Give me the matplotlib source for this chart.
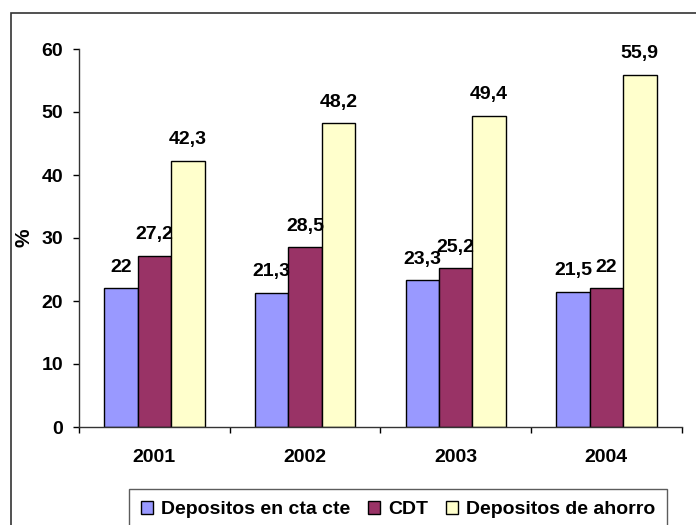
import matplotlib
matplotlib.use("Agg")
import matplotlib.pyplot as plt
import numpy as np
from matplotlib.patches import Rectangle

# ---------------------------------------------------------------- data
years = ["2001", "2002", "2003", "2004"]
cta_cte = [22, 21.3, 23.3, 21.5]
cdt = [27.2, 28.5, 25.2, 22]
ahorro = [42.3, 48.2, 49.4, 55.9]
series_names = ["Depositos en cta cte", "CDT", "Depositos de ahorro"]
colors = ["#9999FF", "#993366", "#FFFFCC"]
y_ticks = [0, 10, 20, 30, 40, 50, 60]

plt.rcParams["font.family"] = ["Liberation Sans", "DejaVu Sans"]
plt.rcParams["font.weight"] = "bold"
FS = 14

fig = plt.figure(figsize=(6.96, 5.25), dpi=100)
ax = fig.add_axes([79 / 696, 98 / 525, 602.7 / 696, 378 / 525])

x = np.arange(len(years))
bw = 0.222
for i, (vals, name, col) in enumerate(zip([cta_cte, cdt, ahorro], series_names, colors)):
    xs = x + (i - 1) * bw
    ax.bar(xs, vals, bw, color=col, edgecolor="black", linewidth=1.0, label=name)
    for xi, v in zip(xs, vals):
        ax.annotate(f"{v:g}".replace(".", ","), (xi, v), xytext=(0, 9),
                    textcoords="offset points", ha="center", va="bottom",
                    fontsize=FS, fontweight="bold")

ax.set_xlim(-0.5, len(years) - 0.5)
ax.set_ylim(0, 60)
ax.set_yticks(y_ticks)
ax.set_xticks(x)
ax.set_xticklabels(years, fontsize=FS, fontweight="bold")
ax.set_xticks(np.arange(-0.5, len(years)), minor=True)
ax.tick_params(axis="x", which="major", length=0, pad=16)
ax.tick_params(axis="x", which="minor", length=4, width=1, direction="out")
ax.tick_params(axis="y", length=4.3, width=1, pad=7, labelsize=FS)
for lab in ax.get_yticklabels():
    lab.set_fontweight("bold")
for s in ["top", "right"]:
    ax.spines[s].set_visible(False)
for s in ["left", "bottom"]:
    ax.spines[s].set_linewidth(1.0)
    ax.spines[s].set_color("#333333")

ax.set_ylabel("%", fontsize=FS + 1, fontweight="bold")
ax.yaxis.set_label_coords(-0.075, 0.5)

leg = fig.legend(loc="upper left", bbox_to_anchor=(129 / 696, 1 - 489 / 525),
                 ncol=3, frameon=True, fancybox=False, fontsize=FS,
                 handlelength=0.65, handleheight=0.65, handletextpad=0.4,
                 columnspacing=0.9, borderpad=0.6, borderaxespad=0)
leg.get_frame().set_edgecolor("#333333")
leg.get_frame().set_linewidth(1.0)
for t in leg.get_texts():
    t.set_fontweight("bold")

# outer chart-area border (runs off the right and bottom edges)
fig.patches.append(Rectangle((11 / 696, -0.2), 1.2, 1 - 13 / 525 + 0.2,
                             transform=fig.transFigure, fill=False,
                             edgecolor="#333333", linewidth=1.2))

fig.savefig("out.png", dpi=100)
